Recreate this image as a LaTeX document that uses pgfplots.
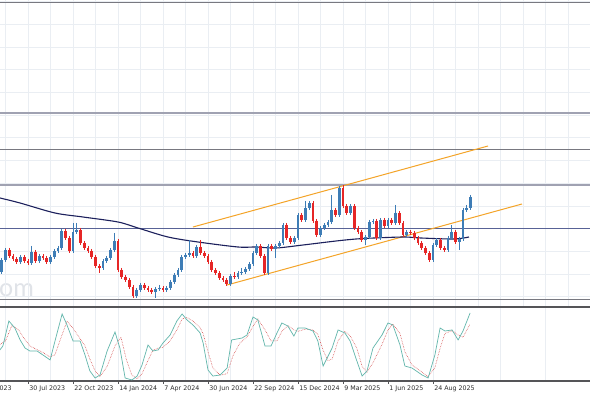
\documentclass[border=0pt]{standalone}
\usepackage{fontspec}
\setmainfont{DejaVu Sans}
\newfontfamily\wmfont{Lato}
\usepackage{pgfplots}
\usepackage{pgfplotstable}
\pgfplotsset{compat=1.18}
\definecolor{upcol}{RGB}{62,125,182}
\definecolor{dncol}{RGB}{230,38,38}
\definecolor{macol}{RGB}{28,32,92}
\definecolor{chcol}{RGB}{244,164,40}
\definecolor{gridcol}{RGB}{234,238,243}
\definecolor{lvlA}{RGB}{160,162,178}
\definecolor{lvlB}{RGB}{120,120,128}
\definecolor{lvlC}{RGB}{88,98,150}
\definecolor{sepcol}{RGB}{85,85,88}
\definecolor{kcol}{RGB}{98,182,172}
\definecolor{dcol}{RGB}{214,80,80}
\definecolor{labcol}{RGB}{45,45,45}

% weekly candles: w open high low close (price scale drawn top-down)
\pgfplotstableread{
w o h l c
-7 272 258 274 260
-6 260 248 262 250
-2 262 255 264 257
1 263 246 265 252
3 261 254 263 256
6 262 255 264 257
7 257 249 259 251
8 251 246 253 248
9 248 229 250 231
12 251 223 253 232
13 232 223 234 230
20 268 259 270 261
21 261 256 263 258
22 258 248 260 250
23 250 233 252 241
29 296 288 298 290
30 290 283 292 285
34 292 287 298 289
35 289 285 291 288
37 290 286 292 288
38 288 280 290 282
39 282 273 284 275
40 275 268 277 270
41 270 255 272 257
42 257 253 259 255
43 255 240 257 253
45 256 245 258 247
54 284 274 286 276
56 277 271 279 273
57 273 268 275 272
58 272 267 274 269
59 269 262 271 264
60 264 251 266 253
61 253 244 255 246
64 273 244 275 246
66 249 244 258 246
67 246 241 248 243
68 243 223 245 225
71 242 236 244 238
72 238 213 240 215
74 220 201 222 208
75 208 201 210 203
78 235 226 237 228
79 228 223 230 225
80 225 220 227 222
81 222 195 224 210
83 215 186 217 188
86 213 204 215 206
90 240 235 245 237
91 237 220 239 222
92 222 219 224 221
94 238 218 240 220
96 226 218 228 220
98 223 205 225 213
101 235 230 237 232
108 260 243 262 245
109 245 238 247 240
112 250 236 252 238
113 238 225 240 232
115 242 237 250 239
116 239 208 241 210
117 210 205 212 208
118 208 195 210 197
}\upTable

\pgfplotstableread{
w o h l c
-5 250 248 258 256
-4 256 254 261 259
-3 259 257 264 262
-1 257 255 263 261
0 261 259 265 263
2 252 250 263 261
4 256 254 260 258
5 258 256 264 262
10 231 229 240 238
11 238 236 253 251
14 230 228 245 243
15 243 241 250 248
16 248 246 253 251
17 251 249 259 257
18 257 255 268 266
19 266 264 273 268
24 241 239 272 270
25 270 268 279 277
26 277 275 282 280
27 280 278 289 287
28 287 285 298 296
31 285 283 290 288
32 288 286 292 290
33 290 288 294 292
36 288 286 292 290
44 253 251 258 256
46 247 240 255 253
47 253 251 258 256
48 256 254 264 262
49 262 260 272 270
50 270 268 275 273
51 273 271 280 278
52 278 276 282 280
53 280 278 286 284
55 276 272 279 277
62 246 244 258 256
63 256 254 275 273
65 246 244 251 249
69 225 223 240 238
70 238 236 244 242
73 215 213 222 220
76 203 201 223 221
77 221 219 237 235
82 210 208 217 215
84 188 185 208 206
85 206 204 215 213
87 206 204 230 228
88 228 226 234 232
89 232 230 242 240
93 221 219 240 238
95 220 218 228 226
97 220 218 225 223
99 213 211 225 223
100 223 221 237 235
102 232 230 235 233
103 233 231 240 238
104 238 236 245 243
105 243 241 250 248
106 248 246 255 253
107 253 251 262 260
110 240 238 250 248
111 248 246 252 250
114 232 230 244 242
}\dnTable

\pgfplotsset{
  candle/.style n args={2}{draw=none, no markers,
    error bars/.cd, y dir=plus, y explicit, error mark=none,
    error bar style={draw=#1, line width=#2}},
}

\begin{document}
\begin{tikzpicture}
\path[use as bounding box] (0,0) rectangle (590pt,393pt);
\fill[white] (0,0) rectangle (590pt,393pt);
\node[anchor=base west, inner sep=0pt, text={rgb,255:red,224;green,227;blue,232}, font=\wmfont\fontsize{25}{25}\selectfont] at (-1pt,96pt) {om};

% ---------------- main price panel ----------------
\begin{axis}[
  at={(0pt,85pt)}, anchor=south west,
  width=590pt, height=308pt, scale only axis,
  xmin=-7.467, xmax=149.87, ymin=0, ymax=308, y dir=reverse,
  axis line style={draw=none}, tick style={draw=none},
  xtick={-6,0,...,150}, xticklabels={},
  ytick={1.5,24.2,46.9,69.6,92.3,115,137.7,160.4,183.1,205.8,228.5,251.2,273.9,296.6},
  yticklabels={},
  grid=major, grid style={gridcol, line width=0.5pt},
  clip=true,
]
% horizontal levels
\addplot[lvlB, line width=0.9pt] coordinates {(-10,2) (160,2)};
\addplot[lvlA, line width=1.3pt] coordinates {(-10,113) (160,113)};
\addplot[lvlB, line width=0.8pt] coordinates {(-10,149) (160,149)};
\addplot[lvlA, line width=1.3pt] coordinates {(-10,185) (160,185)};
\addplot[lvlC, line width=0.7pt] coordinates {(-10,228) (160,228)};
\addplot[lvlB, line width=0.9pt] coordinates {(-10,299) (160,299)};
\addplot[sepcol, line width=2pt] coordinates {(-10,306.8) (160,306.8)};
% channel
\addplot[chcol, line width=1pt] coordinates {(44,227) (122.67,146)};
\addplot[chcol, line width=1pt] coordinates {(53.07,285) (131.73,204)};
% moving average
\addplot[macol, line width=1.1pt, smooth] coordinates {
(-7.47,198) (-2.13,203) (7.2,213) (14.67,217) (24,222) (29.33,228)
(37.33,237) (45.33,242) (56,247) (60.8,247) (66.13,248) (73.33,245)
(82.13,241) (87.47,239) (92.27,238) (100.27,237) (104.8,238) (113.6,239) (117.6,237)};
% wicks
\addplot[candle={upcol}{0.75pt}]
  table[x=w, y=h, y error plus expr=\thisrow{l}-\thisrow{h}] {\upTable};
\addplot[candle={dncol}{0.75pt}]
  table[x=w, y=h, y error plus expr=\thisrow{l}-\thisrow{h}] {\dnTable};
% bodies
\addplot[candle={upcol}{2.6pt}]
  table[x=w, y=c, y error plus expr=\thisrow{o}-\thisrow{c}] {\upTable};
\addplot[candle={dncol}{2.6pt}]
  table[x=w, y=o, y error plus expr=\thisrow{c}-\thisrow{o}] {\dnTable};
\end{axis}

% ---------------- stochastic oscillator ----------------
\begin{axis}[
  at={(0pt,12pt)}, anchor=south west,
  width=590pt, height=73pt, scale only axis,
  xmin=-7.467, xmax=149.87, ymin=0, ymax=100,
  axis x line*=bottom, axis y line=none,
  x axis line style={sepcol, line width=1.2pt},
  xtick={0,12,...,108},
  xticklabels={30 Jul 2023,22 Oct 2023,14 Jan 2024,7 Apr 2024,30 Jun 2024,22 Sep 2024,15 Dec 2024,9 Mar 2025,1 Jun 2025,24 Aug 2025},
  minor xtick={-6,6,...,150},
  ytick={20,80}, yticklabels={},
  tick align=outside, major tick length=3pt, minor tick length=0pt,
  xtick style={sepcol, line width=0.6pt},
  grid=both, grid style={gridcol, line width=0.5pt}, minor grid style={gridcol, line width=0.5pt},
  xticklabel style={font=\fontsize{6.3}{7}\selectfont, text=labcol, anchor=north west, inner sep=0pt, xshift=1.2pt, yshift=-1.4pt},
  clip mode=individual,
]
\addplot[dcol, line width=0.6pt, densely dotted] coordinates {
(-7.5,50) (-6,55) (-4.3,76) (-2.5,70) (-1,58) (0.5,48) (2.4,43) (4,39) (5.9,33) (7.2,36)
(8.5,55) (10.4,82) (12,72) (13.9,58) (15.2,48) (16.5,30) (17.9,14) (19.2,6) (21.1,20) (23.2,48)
(24.8,60) (26.2,30) (27.7,8) (29.1,3) (30.4,10) (32,28) (33.3,42) (34.7,45) (36,46) (37.9,55)
(39.7,70) (41.1,85) (42.4,87) (44,82) (45.9,73) (46.7,65) (48,40) (49.3,18) (51.2,8) (53.1,10)
(54.7,35) (56.5,52) (58.4,60) (60,75) (61.3,85) (63.2,70) (64.8,55) (66.4,55) (67.7,68) (69.3,76)
(70.9,70) (72,68) (73.9,71) (76,70) (77.3,64) (78.7,42) (80,28) (81.1,30) (82.7,55) (84.5,68)
(85.9,62) (87.7,45) (89.1,20) (90.4,12) (92,25) (94.4,50) (96,70) (97.3,78) (99.2,65) (100.5,40)
(102.4,22) (105.1,12) (106.7,6) (108.5,18) (109.9,45) (111.2,65) (113.1,69) (114.7,63) (116,60) (117.9,78)};
\addplot[kcol, line width=0.7pt] coordinates {
(-7.5,42.5) (-6.7,47.9) (-5.1,82.2) (-3.5,72.6) (-2.1,56.2) (-0.8,45.2) (0.5,41.1) (2.4,41.1)
(4.0,35.6) (5.9,28.8) (7.2,54.8) (9.1,91.8) (10.4,76.7) (12.0,54.8) (13.9,54.8) (15.2,35.6)
(16.5,13.7) (17.9,4.1) (19.2,8.2) (21.1,41.1) (23.2,67.1) (24.5,45.2) (25.9,4.1) (27.7,1.4)
(29.1,6.8) (30.4,21.9) (32.0,49.3) (33.3,41.1) (34.7,42.5) (36.0,52.1) (37.9,63.0) (39.7,82.2)
(41.1,91.8) (42.4,83.6) (44.0,76.7) (45.9,65.8) (46.7,52.1) (48.0,15.1) (49.3,6.8) (51.2,8.2)
(53.1,17.8) (54.3,56.2) (57.1,58.9) (58.4,63.0) (60.0,87.7) (61.3,83.6) (63.2,47.9) (64.8,47.9)
(66.4,65.8) (67.7,79.5) (69.3,75.3) (70.9,61.6) (72.0,72.6) (73.9,72.6) (76.0,68.5) (77.3,54.8)
(78.7,20.5) (81.1,45.2) (82.7,69.9) (84.5,65.8) (85.9,54.8) (87.7,27.4) (89.1,6.8) (90.4,13.7)
(92.0,45.2) (94.4,63.0) (96.0,79.5) (97.3,76.7) (99.2,49.3) (100.5,20.5) (102.4,17.8) (105.1,8.2)
(106.7,4.1) (108.5,35.6) (109.9,72.6) (111.2,68.5) (113.1,69.9) (114.7,56.2) (116.0,68.5) (117.9,93.2)};
\node[anchor=north east, inner sep=0pt, font=\fontsize{6.3}{7}\selectfont, text=labcol] at (axis cs:-4.3,0) [yshift=-4.4pt] {7 May 2023};
\end{axis}
\end{tikzpicture}
\end{document}
